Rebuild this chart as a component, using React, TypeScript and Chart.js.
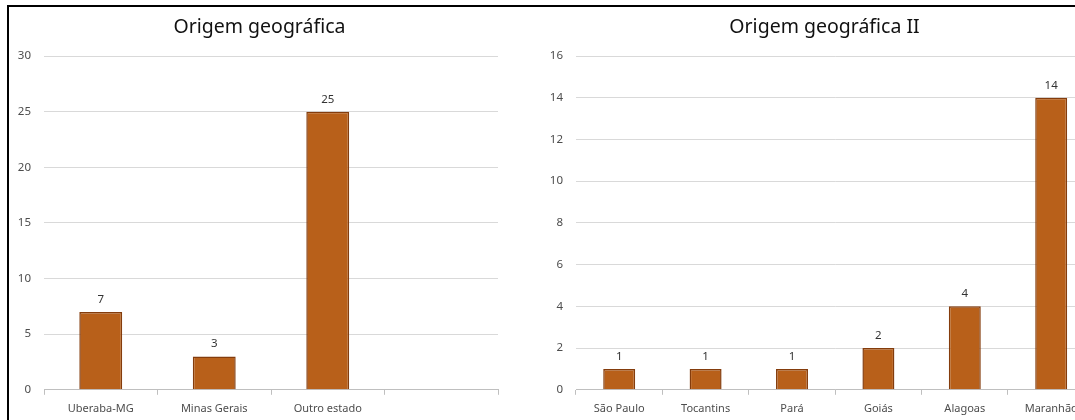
import React, { useEffect, useRef } from "react";
import { Chart, registerables } from "chart.js";

Chart.register(...registerables);

const leftTitle = "Origem geográfica";
const leftCategories = ["Uberaba-MG", "Minas Gerais", "Outro estado", ""];
const leftValues: (number | null)[] = [7, 3, 25, null];
const leftTicks = { min: 0, max: 30, step: 5 };

const rightTitle = "Origem geográfica II";
const rightCategories = ["São Paulo", "Tocantins", "Pará", "Goiás", "Alagoas", "Maranhão"];
const rightValues: (number | null)[] = [1, 1, 1, 2, 4, 14];
const rightTicks = { min: 0, max: 16, step: 2 };

const FONT = "'Noto Sans', sans-serif";
const BAR_FILL = "#B8601A";
const BAR_BORDER = "#843C0C";
const CANVAS_H = 415;

const valueLabels = {
  id: "valueLabels",
  afterDatasetsDraw(chart: any) {
    const ctx = chart.ctx;
    ctx.save();
    ctx.font = `11.5px ${FONT}`;
    ctx.fillStyle = "#333333";
    ctx.textAlign = "center";
    ctx.textBaseline = "alphabetic";
    chart.data.datasets.forEach((ds: any, i: number) => {
      const meta = chart.getDatasetMeta(i);
      meta.data.forEach((el: any, j: number) => {
        const v = ds.data[j];
        if (v === null || v === undefined) return;
        ctx.fillText(String(v), el.x, el.y - 9);
      });
    });
    ctx.restore();
  },
};

const fixedTitle = {
  id: "fixedTitle",
  afterDraw(chart: any, _args: any, opts: any) {
    const ctx = chart.ctx;
    ctx.save();
    ctx.font = `${opts.size}px ${FONT}`;
    ctx.fillStyle = "#111111";
    ctx.textAlign = "center";
    ctx.textBaseline = "middle";
    ctx.fillText(opts.text, opts.x, opts.y);
    ctx.restore();
  },
};

type PanelProps = {
  title: string;
  categories: string[];
  values: (number | null)[];
  ticks: { min: number; max: number; step: number };
  left: number;
  width: number;
  yWidth: number;
  padRight: number;
  titleX: number;
  barPct: number;
};

function Panel(p: PanelProps) {
  const ref = useRef<HTMLCanvasElement | null>(null);
  useEffect(() => {
    if (!ref.current) return;
    const chart = new Chart(ref.current, {
      type: "bar",
      data: {
        labels: p.categories,
        datasets: [
          {
            data: p.values,
            backgroundColor: BAR_FILL,
            borderColor: BAR_BORDER,
            borderWidth: 1.5,
            barPercentage: p.barPct,
            categoryPercentage: 1,
          },
        ],
      },
      options: {
        animation: false,
        responsive: false,
        maintainAspectRatio: false,
        layout: { padding: { top: 49, right: p.padRight, bottom: 0, left: 0 } },
        plugins: {
          legend: { display: false },
          tooltip: { enabled: false },
          title: { display: false },
          fixedTitle: { text: p.title, x: p.titleX, y: 20, size: 19.5 },
        } as any,
        scales: {
          x: {
            offset: true,
            grid: {
              display: true,
              drawOnChartArea: false,
              drawTicks: true,
              tickLength: 5,
              offset: true,
              color: "#BFBFBF",
            },
            border: { display: true, color: "#BFBFBF", width: 1 },
            ticks: {
              color: "#4d4d4d",
              font: { family: FONT, size: 11 },
              padding: 7,
              maxRotation: 0,
              autoSkip: false,
            },
          },
          y: {
            min: p.ticks.min,
            max: p.ticks.max,
            afterFit(scale: any) {
              scale.width = p.yWidth;
            },
            grid: { color: "#D9D9D9", drawTicks: false, lineWidth: 1 },
            border: { display: false },
            ticks: {
              stepSize: p.ticks.step,
              color: "#4d4d4d",
              font: { family: FONT, size: 11.5 },
              padding: 13,
            },
          },
        },
      },
      plugins: [valueLabels, fixedTitle],
    });
    return () => chart.destroy();
  }, []);
  return (
    <canvas
      ref={ref}
      width={p.width}
      height={CANVAS_H}
      style={{ position: "absolute", left: p.left, top: 7, width: p.width, height: CANVAS_H }}
    />
  );
}

export default function App() {
  return (
    <div
      style={{
        position: "fixed",
        left: 0,
        top: 0,
        width: 1075,
        height: 420,
        overflow: "hidden",
        background: "#ffffff",
      }}
    >
      <div
        style={{
          position: "absolute",
          left: 7,
          top: 5,
          width: 1200,
          height: 500,
          borderTop: "2px solid #000",
          borderLeft: "2px solid #000",
        }}
      />
      <Panel
        title={leftTitle}
        categories={leftCategories}
        values={leftValues}
        ticks={leftTicks}
        left={9}
        width={500}
        yWidth={35}
        padRight={11}
        titleX={250.5}
        barPct={0.378}
      />
      <Panel
        title={rightTitle}
        categories={rightCategories}
        values={rightValues}
        ticks={rightTicks}
        left={515}
        width={620}
        yWidth={61}
        padRight={40.6}
        titleX={309.5}
        barPct={0.37}
      />
    </div>
  );
}
